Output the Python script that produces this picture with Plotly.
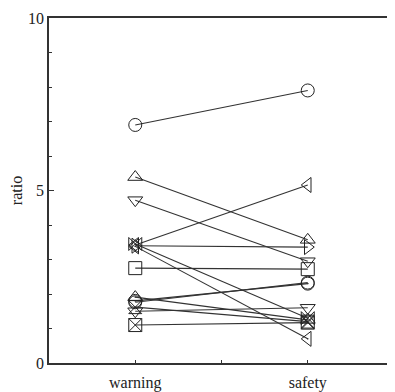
import plotly.graph_objects as go

categories = ["warning", "safety"]
y_ticks = [0, 5, 10]

# each series: (marker symbol, warning value, safety value)
series_symbols = [
    "circle-open", "triangle-up-open", "triangle-down-open", "triangle-left-open",
    "triangle-right-open", "triangle-left-open-dot", "bowtie-open", "square-open",
    "circle-open-dot", "circle-open", "triangle-up-open-dot", "triangle-down-open",
    "hourglass-open", "square-x-open",
]
warning_vals = [6.90, 5.39, 4.72, 3.42, 3.40, 3.38, 3.45, 2.75,
                1.80, 1.76, 1.91, 1.50, 1.62, 1.10]
safety_vals = [7.90, 3.57, 2.95, 5.16, 3.36, 0.70, 1.30, 2.72,
               2.30, 2.33, 1.25, 1.60, 1.20, 1.17]

x_pos = [i + 1 for i in range(len(categories))]

fig = go.Figure()
for sym, w, s in zip(series_symbols, warning_vals, safety_vals):
    fig.add_trace(go.Scatter(
        x=x_pos, y=[w, s], mode="lines+markers",
        line=dict(color="#333333", width=1.1),
        marker=dict(symbol=sym, size=13, color="#222222",
                    line=dict(color="#222222", width=1)),
        showlegend=False, cliponaxis=False,
    ))

font = dict(family="Liberation Serif", size=16, color="#222222")

fig.update_layout(
    width=387, height=384,
    margin=dict(l=41, r=1, t=10, b=29, autoexpand=False),
    paper_bgcolor="white", plot_bgcolor="white",
    font=font,
    xaxis=dict(
        range=[0.5, 2.5], tickvals=[1, 1.5, 2], ticktext=[categories[0], "", categories[1]],
        ticks="inside", ticklen=3, tickcolor="#333333", ticklabelstandoff=4,
        showline=True, linecolor="#333333", linewidth=1.5, mirror=True,
        showgrid=False, zeroline=False, tickfont=font,
    ),
    yaxis=dict(
        range=[0, 10], tickvals=y_ticks, ticks="inside", ticklen=5, tickcolor="#333333",
        minor=dict(dtick=1, ticks="inside", ticklen=3, tickcolor="#333333"),
        showline=True, linecolor="#333333", linewidth=1.5, mirror="ticks",
        showgrid=False, zeroline=False, tickfont=font,
        title=dict(text="ratio", font=font, standoff=10),
    ),
)

fig.write_html("out.html")
